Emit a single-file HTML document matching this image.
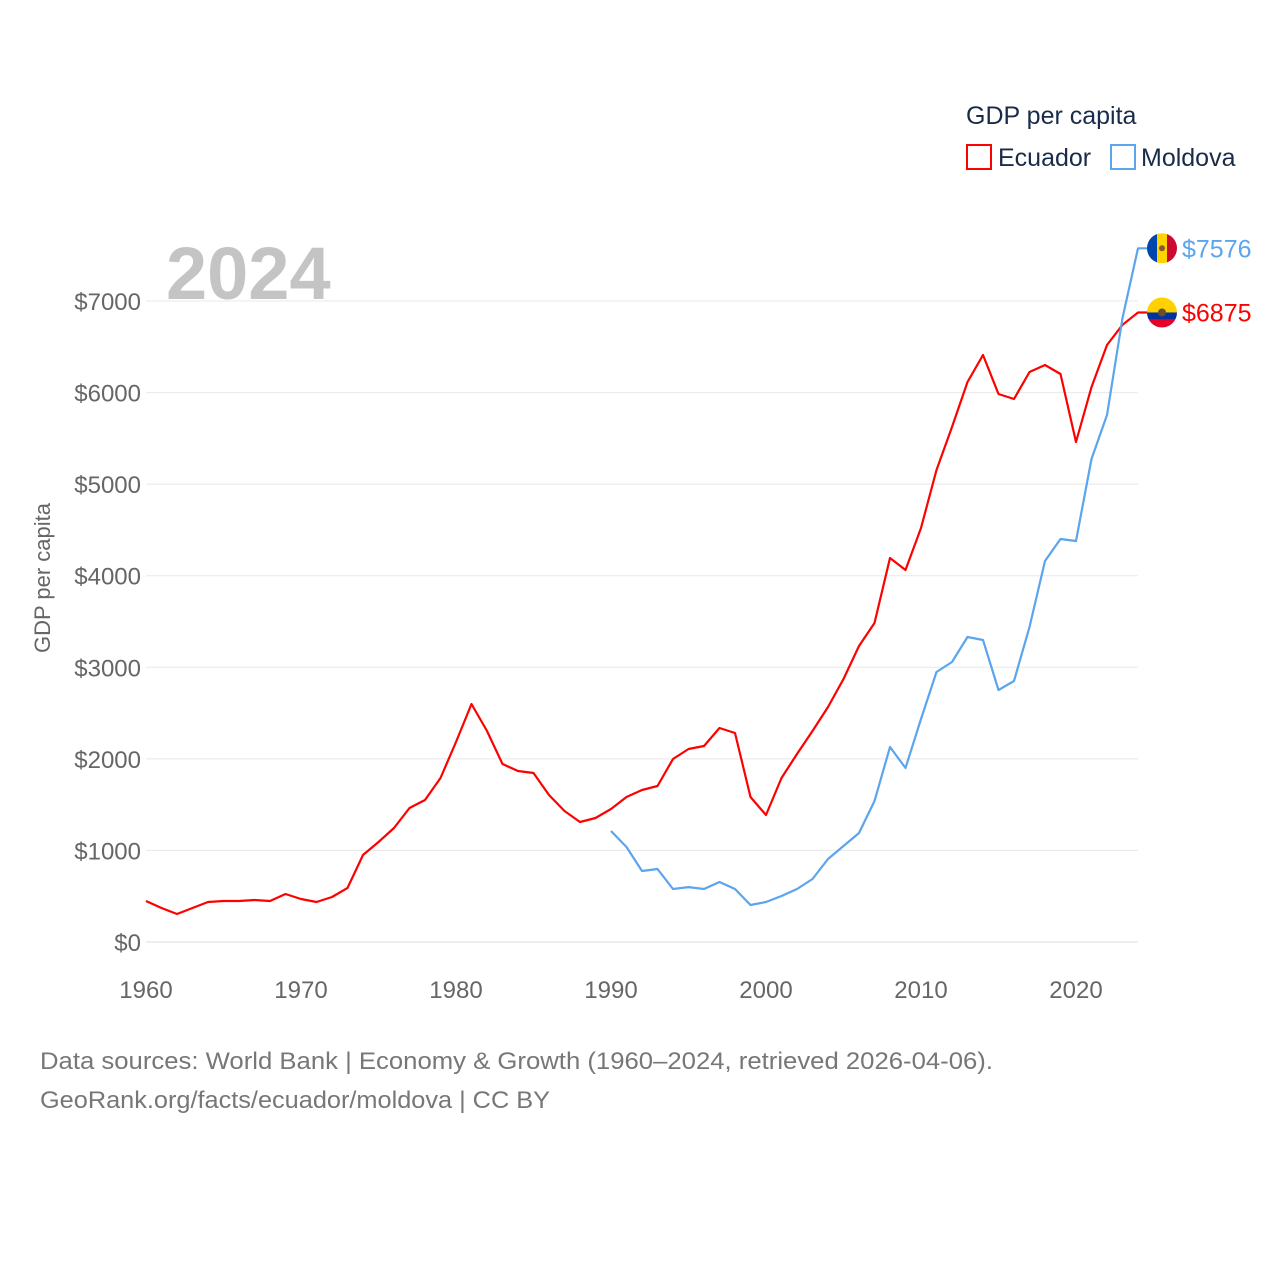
<!DOCTYPE html>
<html><head><meta charset="utf-8"><style>
body{margin:0;background:#fff;font-family:"Liberation Sans",sans-serif;}
svg text{font-family:"Liberation Sans",sans-serif;}
</style></head><body>
<svg id="chart" width="1280" height="1280" viewBox="0 0 1280 1280">
<defs id="defs"></defs>
<g id="grid"></g>
<g id="ylabels"></g>
<g id="xlabels"></g>
<text x="166" y="299" font-size="74" font-weight="bold" fill="#c4c4c4">2024</text>
<text transform="translate(50,578) rotate(-90)" text-anchor="middle" font-size="22" fill="#666">GDP per capita</text>
<g id="series"></g>
<g>
<text x="966" y="124" font-size="25" fill="#1a2b4a">GDP per capita</text>
<g><rect x="967" y="145" width="24" height="24" fill="none" stroke="#ff0000" stroke-width="2"/><text x="998" y="166" font-size="25" fill="#1a2b4a">Ecuador</text></g>
<g><rect x="1111" y="145" width="24" height="24" fill="none" stroke="#5ba4ee" stroke-width="2"/><text x="1141" y="166" font-size="25" fill="#1a2b4a">Moldova</text></g>
</g>
<text x="40" y="1069" font-size="24" fill="#777" textLength="953" lengthAdjust="spacingAndGlyphs">Data sources: World Bank | Economy &amp; Growth (1960–2024, retrieved 2026-04-06).</text>
<text x="40" y="1108" font-size="24" fill="#777" textLength="510" lengthAdjust="spacingAndGlyphs">GeoRank.org/facts/ecuador/moldova | CC BY</text>
</svg>
<script>
const years=[];for(let y=1960;y<=2024;y++)years.push(y);
const ecuador=[448,371,306,371,437,448,448,459,448,524,470,437,491,590,950,1092,1245,1463,1551,1791,2184,2599,2304,1944,1867,1846,1605,1431,1310,1354,1452,1583,1660,1704,1998,2108,2140,2337,2282,1583,1387,1791,2053,2304,2566,2872,3232,3484,4193,4062,4521,5155,5624,6115,6410,5985,5930,6225,6301,6203,5460,6060,6520,6740,6875];
const moldovaStart=1990;
const moldova=[1212,1037,775,797,579,600,579,655,579,404,437,502,579,688,906,1048,1190,1540,2130,1900,2435,2949,3058,3331,3298,2752,2850,3440,4161,4401,4379,5275,5755,6815,7576];
const yTicks=[0,1000,2000,3000,4000,5000,6000,7000];
const xTicks=[1960,1970,1980,1990,2000,2010,2020];
const X=y=>146+(y-1960)*15.5;
const Y=v=>942-v*0.09157;
const NS="http://www.w3.org/2000/svg";
function mk(t,a,p){const e=document.createElementNS(NS,t);for(const k in a)e.setAttribute(k,a[k]);p.appendChild(e);return e;}
const grid=document.getElementById('grid'),yl=document.getElementById('ylabels'),xl=document.getElementById('xlabels'),ser=document.getElementById('series'),defs=document.getElementById('defs');
yTicks.forEach(v=>{
 const l=mk('line',{x1:146,x2:1138,y1:Y(v),y2:Y(v),stroke:v===0?'#ddd':'#e8e8e8','stroke-width':1},grid);
 
 
 const t=mk('text',{x:141,y:Y(v)+9,'text-anchor':'end','font-size':24,fill:'#666'},yl);t.textContent='$'+v;
 
 
});
xTicks.forEach(y=>{
 const t=mk('text',{x:X(y),y:998,'text-anchor':'middle','font-size':24,fill:'#666'},xl);t.textContent=y;
 
 
});
function line(vals,start,color,name){
 let d=vals.map((v,i)=>(i?'L':'M')+X(start+i).toFixed(1)+','+Y(v).toFixed(1)).join(' ');
 const last=vals[vals.length-1];
 d+=' L'+(X(start+vals.length-1)+10)+','+Y(last).toFixed(1);
 const p=mk('path',{d:d,fill:'none',stroke:color,'stroke-width':2.2,'stroke-linejoin':'round'},ser);
 
 
 const ly=Y(last);
 const t=mk('text',{x:1182,y:ly+9,'font-size':25,fill:color},ser);t.textContent='$'+last;
 
 
 return ly;
}
const ly1=line(ecuador,1960,'#ff0000','ecuador');
const ly2=line(moldova,moldovaStart,'#5ba4ee','moldova');
function flag(id,ly,name){
 const cp=mk('clipPath',{id:id},defs);mk('circle',{cx:1162,cy:ly,r:15},cp);
 const g=mk('g',{'clip-path':'url(#'+id+')'},ser);
 
 
 return g;
}
const f1=flag('cpE',ly1,'ecuador');
mk('rect',{x:1147,y:ly1-15,width:30,height:15,fill:'#ffd100'},f1);
mk('rect',{x:1147,y:ly1,width:30,height:7,fill:'#0033a0'},f1);
mk('rect',{x:1147,y:ly1+7,width:30,height:8,fill:'#e4002b'},f1);
mk('circle',{cx:1162,cy:ly1,r:4,fill:'#6b4e2a'},f1);
const f2=flag('cpM',ly2,'moldova');
mk('rect',{x:1147,y:ly2-15,width:10,height:30,fill:'#0046ae'},f2);
mk('rect',{x:1157,y:ly2-15,width:10,height:30,fill:'#ffd200'},f2);
mk('rect',{x:1167,y:ly2-15,width:10,height:30,fill:'#cc092f'},f2);
mk('circle',{cx:1162,cy:ly2,r:3,fill:'#8a5a2b'},f2);
</script>
</body></html>
